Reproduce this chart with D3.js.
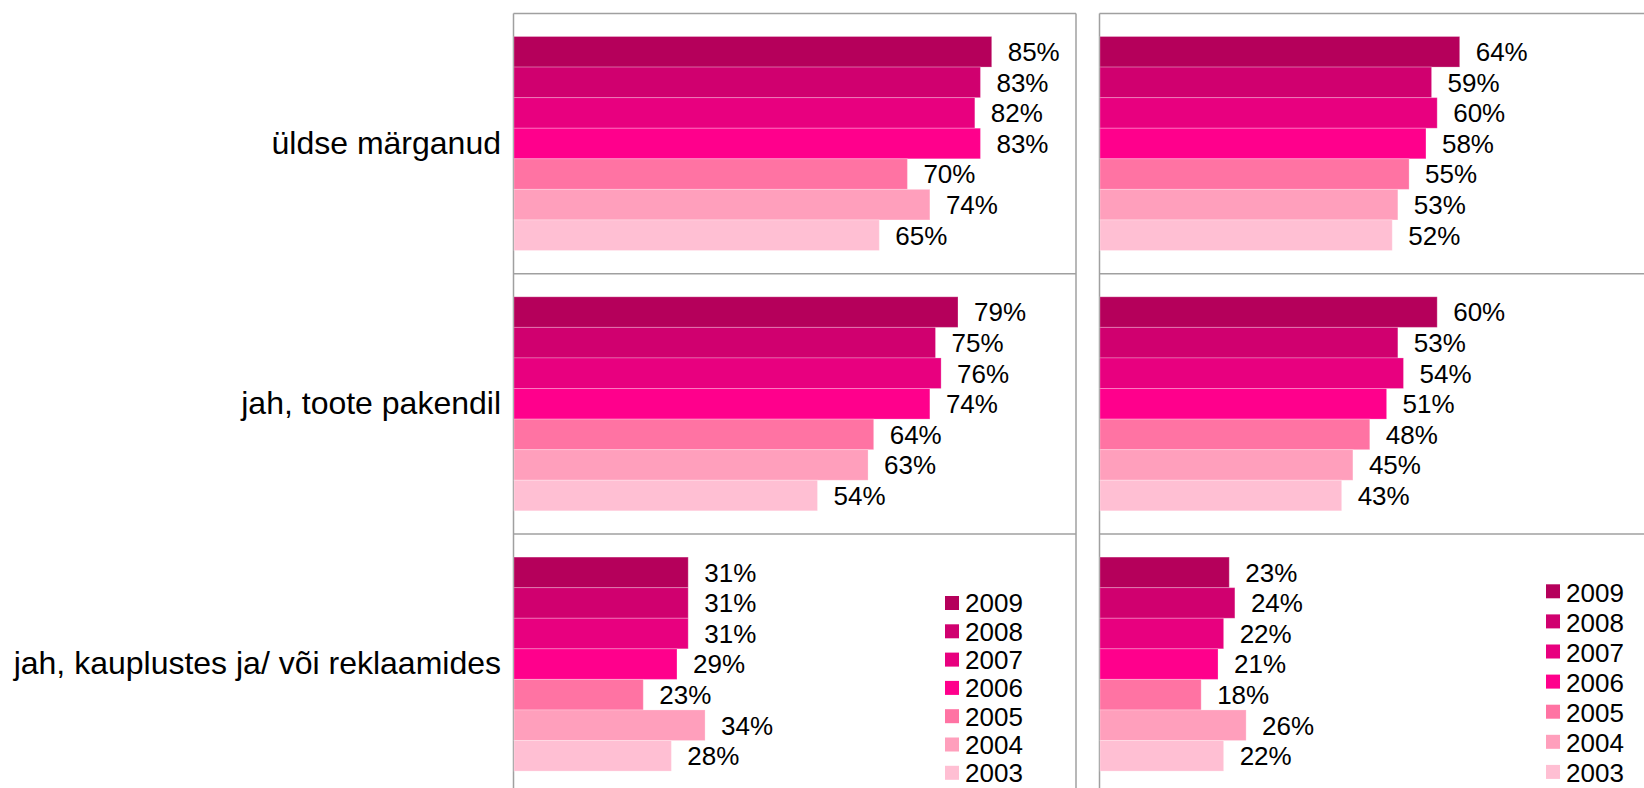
<!DOCTYPE html>
<html>
<head>
<meta charset="utf-8">
<script src="https://cdn.jsdelivr.net/npm/d3@7"></script>
<style>
  body { margin: 0; background: #fff; }
  text { font-family: "Liberation Sans", Arial, Helvetica, sans-serif; fill: #000; }
</style>
</head>
<body>
<div id="chart"></div>
<script>
// data
var categories = ['üldse märganud', 'jah, toote pakendil', 'jah, kauplustes ja/ või reklaamides'];
var years = ['2009', '2008', '2007', '2006', '2005', '2004', '2003'];
var leftValues = [
	[85, 83, 82, 83, 70, 74, 65],
	[79, 75, 76, 74, 64, 63, 54],
	[31, 31, 31, 29, 23, 34, 28]
];
var rightValues = [
	[64, 59, 60, 58, 55, 53, 52],
	[60, 53, 54, 51, 48, 45, 43],
	[23, 24, 22, 21, 18, 26, 22]
];
var yearColors = ['#b5005b', '#d0006f', '#e8007f', '#ff008c', '#ff73a3', '#ff9fbc', '#ffbfd3'];

var width = 1644;
var height = 788;
var panelTop = 13.5;
var panelHeight = 260.3;
var barOffset = 23;
var barBlock = 214;
var columns = [
	{ x0: 513.5, x1: 1076, values: leftValues, legend: { x: 945, y: 596, step: 28.3, base: 16.3 } },
	{ x0: 1099.5, x1: 1700, values: rightValues, legend: { x: 1546, y: 584.3, step: 30.1, base: 17.4 } }
];

var color = d3.scaleOrdinal().domain(years).range(yearColors);

var svg = d3.select('#chart')
	.append('svg')
	.attr('width', width)
	.attr('height', height);

// category labels on the left
svg.selectAll('text.category')
	.data(categories)
	.enter()
	.append('text')
	.attr('class', 'category')
	.attr('x', 501)
	.attr('y', function(d, i) { return panelTop + panelHeight * i + panelHeight / 2; })
	.attr('dy', '0.31em')
	.attr('text-anchor', 'end')
	.style('font-size', '32px')
	.text(function(d) { return d; });

columns.forEach(function(col) {
	var x = d3.scaleLinear().domain([0, 100]).range([col.x0 + 0.5, col.x0 + 0.5 + 562]);
	var g = svg.append('g');

	// panel frame
	categories.forEach(function(c, i) {
		g.append('line')
			.attr('x1', col.x0).attr('x2', col.x1)
			.attr('y1', panelTop + panelHeight * i).attr('y2', panelTop + panelHeight * i)
			.style('stroke', '#a0a0a0').style('stroke-width', 1.5);
	});
	g.append('line')
		.attr('x1', col.x0).attr('x2', col.x0)
		.attr('y1', panelTop).attr('y2', height)
		.style('stroke', '#a0a0a0').style('stroke-width', 1.5);
	if (col.x1 < width) {
		g.append('line')
			.attr('x1', col.x1).attr('x2', col.x1)
			.attr('y1', panelTop).attr('y2', height)
			.style('stroke', '#a0a0a0').style('stroke-width', 1.5);
	}

	col.values.forEach(function(vals, i) {
		var top = panelTop + panelHeight * i + barOffset;
		var y = d3.scaleBand().domain(years).range([top, top + barBlock]);
		var rows = years.map(function(yr, j) { return { year: yr, value: vals[j] }; });

		g.selectAll('rect.bar' + i)
			.data(rows)
			.enter()
			.append('rect')
			.attr('class', 'bar' + i)
			.attr('x', x(0))
			.attr('y', function(d) { return y(d.year); })
			.attr('width', function(d) { return x(d.value) - x(0); })
			.attr('height', y.bandwidth())
			.style('fill', function(d) { return color(d.year); })
			.style('stroke', 'rgba(255,255,255,0.25)')
			.style('stroke-width', 1);

		g.selectAll('text.label' + i)
			.data(rows)
			.enter()
			.append('text')
			.attr('class', 'label' + i)
			.attr('x', function(d) { return x(d.value) + 16; })
			.attr('y', function(d) { return y(d.year) + y.bandwidth() / 2; })
			.attr('dy', '0.36em')
			.style('font-size', '26px')
			.text(function(d) { return d.value + '%'; });
	});

	// legend
	var lg = g.selectAll('g.legend')
		.data(years)
		.enter()
		.append('g')
		.attr('class', 'legend')
		.attr('transform', function(d, i) { return 'translate(' + col.legend.x + ',' + (col.legend.y + col.legend.step * i) + ')'; });
	lg.append('rect')
		.attr('width', 14)
		.attr('height', 14)
		.style('fill', function(d) { return color(d); });
	lg.append('text')
		.attr('x', 20)
		.attr('y', col.legend.base)
		.style('font-size', '26px')
		.text(function(d) { return d; });
});
</script>
</body>
</html>
